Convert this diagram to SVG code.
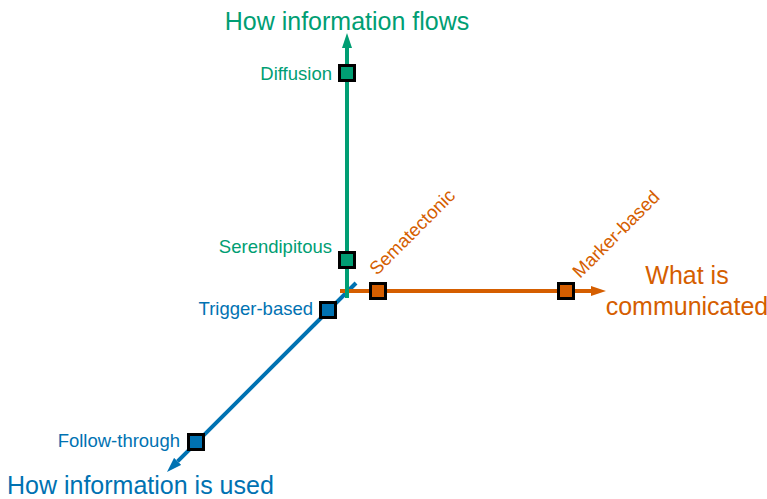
<svg xmlns="http://www.w3.org/2000/svg" width="767" height="499" viewBox="0 0 767 499">
<defs>
<style>
text{font-family:"Liberation Sans",Arial,sans-serif}
.lbl{font-size:18.5px}
.ttl{font-size:25px}
.g{fill:#009E73}.o{fill:#D55E00}.b{fill:#0072B2}
.ax{stroke-width:4;fill:none}
.sq{stroke:#000;stroke-width:3}
</style>
<marker id="ag" viewBox="0 0 15 10" refX="0" refY="5" markerWidth="15" markerHeight="10" markerUnits="userSpaceOnUse" orient="auto"><path d="M0,0L15,5L0,10z" fill="#009E73"/></marker>
<marker id="ao" viewBox="0 0 15 10" refX="0" refY="5" markerWidth="15" markerHeight="10" markerUnits="userSpaceOnUse" orient="auto"><path d="M0,0L15,5L0,10z" fill="#D55E00"/></marker>
<marker id="ab" viewBox="0 0 15 10" refX="0" refY="5" markerWidth="15" markerHeight="10" markerUnits="userSpaceOnUse" orient="auto"><path d="M0,0L15,5L0,10z" fill="#0072B2"/></marker>
</defs>
<rect width="767" height="499" fill="#fff"/>
<g id="connectors">
<line class="ax" x1="356" y1="283" x2="177.6" y2="461.4" stroke="#0072B2" marker-end="url(#ab)"/>
<line class="ax" x1="340" y1="291" x2="591" y2="291" stroke="#D55E00" marker-end="url(#ao)"/>
<line class="ax" x1="347" y1="298" x2="347" y2="48" stroke="#009E73" marker-end="url(#ag)"/>
</g>
<g id="axis-flow"><text class="ttl g" x="347" y="30" text-anchor="middle">How information flows</text></g>
<g id="axis-what"><text class="ttl o" text-anchor="middle"><tspan x="687" y="284">What is</tspan><tspan x="687" y="315">communicated</tspan></text></g>
<g id="axis-used"><text class="ttl b" x="7" y="493.5">How information is used</text></g>
<g id="diffusion"><rect class="sq g" x="339.5" y="65.5" width="15" height="15"/><text class="lbl g" x="332" y="80" text-anchor="end">Diffusion</text></g>
<g id="serendipitous"><rect class="sq g" x="339.5" y="252.5" width="15" height="15"/><text class="lbl g" x="332" y="253" text-anchor="end">Serendipitous</text></g>
<g id="sematectonic"><rect class="sq o" x="370.5" y="283.5" width="15" height="15"/><text class="lbl o" transform="translate(377,276) rotate(-45)">Sematectonic</text></g>
<g id="marker-based"><rect class="sq o" x="558.5" y="283.5" width="15" height="15"/><text class="lbl o" transform="translate(580,279) rotate(-45)">Marker-based</text></g>
<g id="trigger-based"><rect class="sq b" x="320.5" y="302.5" width="15" height="15"/><text class="lbl b" x="313" y="315" text-anchor="end">Trigger-based</text></g>
<g id="follow-through"><rect class="sq b" x="188.5" y="434.5" width="15" height="15"/><text class="lbl b" x="180" y="447" text-anchor="end">Follow-through</text></g>
</svg>
